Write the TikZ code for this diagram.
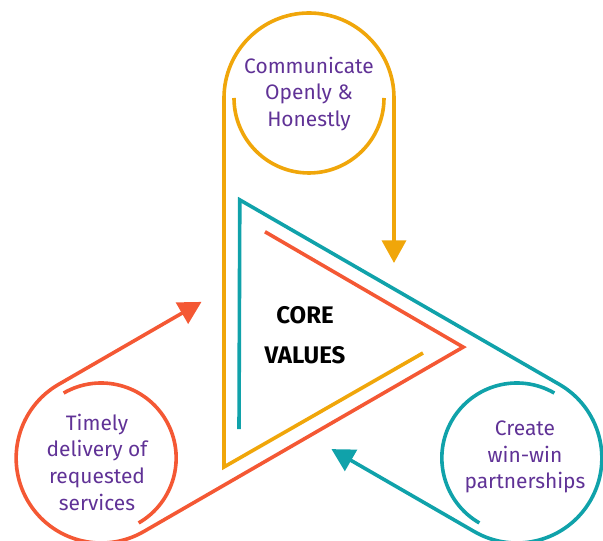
\documentclass[tikz,border=0pt]{standalone}
\usepackage{fontspec}
\setmainfont{Fira Sans}
\usetikzlibrary{arrows.meta}
\definecolor{cy}{RGB}{240,166,10}
\definecolor{ct}{RGB}{16,162,170}
\definecolor{cr}{RGB}{244,88,52}
\definecolor{cp}{RGB}{96,50,150}
\tikzset{
  band/.style={line width=2.7pt},
  tip/.style={-{Triangle[length=17pt,width=18pt]}},
  label/.style={align=center,text=cp,font=\fontsize{15.7}{20}\selectfont,inner sep=0pt},
  core/.style={align=center,text=black,font=\fontsize{18}{30}\selectfont\bfseries,inner sep=0pt}
}
\newcommand{\drawmotif}[1]{%
  \draw[band,#1,tip] (114,-15) -- (-85,-129) -- (-85,240)
      arc[start angle=180,end angle=0,radius=85] -- (85,75);
  \draw[band,#1] (75,240) arc[start angle=0,end angle=-180,radius=75];
}
\begin{document}
\begin{tikzpicture}[x=0.75pt,y=0.75pt]
\useasboundingbox (-309,-203) rectangle (294,338);
\begin{scope}\drawmotif{cy}\end{scope}
\begin{scope}[rotate=-120]\drawmotif{ct}\end{scope}
\begin{scope}[rotate=120]\drawmotif{cr}\end{scope}
\node[label] (comm) at (0,244) {Communicate\\Openly \&\\Honestly};
\node[label] (win) at (216,-119) {Create\\win-win\\partnerships};
\node[label] (time) at (-212,-124) {Timely\\delivery of\\requested\\services};
\node[core] (core) at (-4,3) {CORE\\VALUES};
\end{tikzpicture}
\end{document}
